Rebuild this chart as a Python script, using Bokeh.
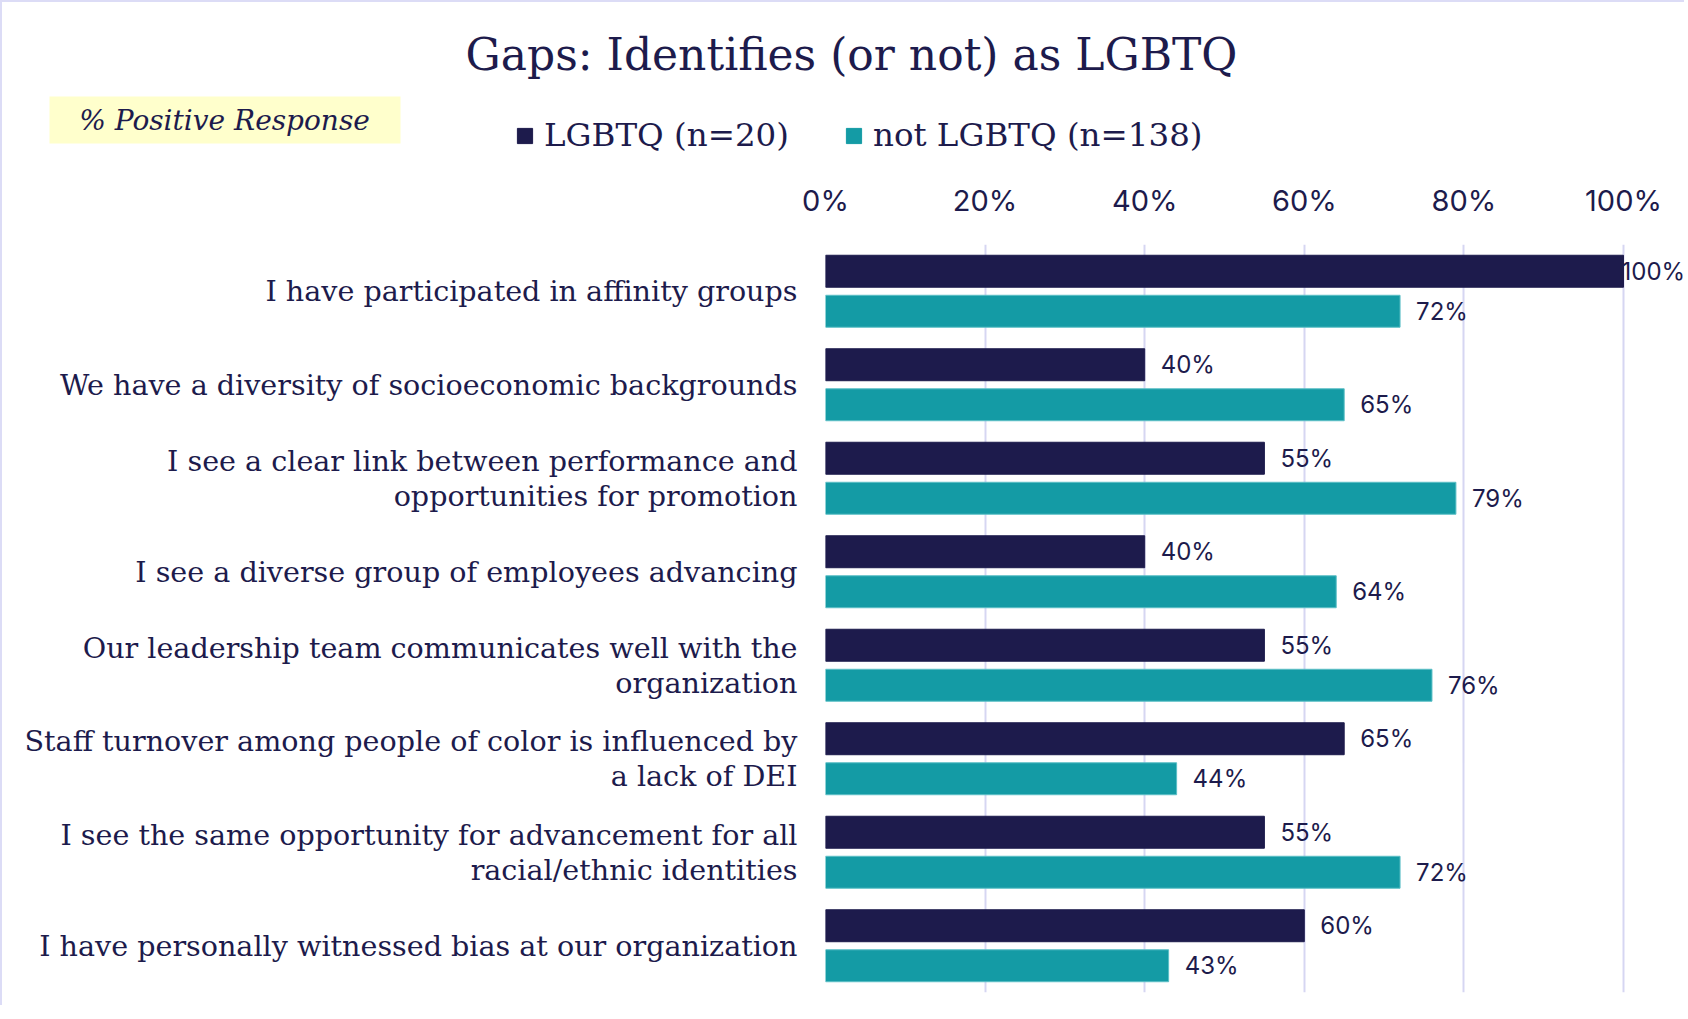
from bokeh.plotting import figure
from bokeh.models import (FactorRange, Range1d, ColumnDataSource, Label, Legend,
                          LegendItem, FixedTicker, CustomJSTickFormatter, BoxAnnotation)
from bokeh.transform import dodge
from bokeh.core.properties import value
from bokeh.embed import file_html
from bokeh.resources import INLINE

# ---------------- data ----------------
categories = [
    "I have participated in affinity groups",
    "We have a diversity of socioeconomic backgrounds",
    "I see a clear link between performance and\nopportunities for promotion",
    "I see a diverse group of employees advancing",
    "Our leadership team communicates well with the\norganization",
    "Staff turnover among people of color is influenced by\na lack of DEI",
    "I see the same opportunity for advancement for all\nracial/ethnic identities",
    "I have personally witnessed bias at our organization",
]
lgbtq = [100, 40, 55, 40, 55, 65, 55, 60]
not_lgbtq = [72, 65, 79, 64, 76, 44, 72, 43]
series_names = ["LGBTQ (n=20)", "not LGBTQ (n=138)"]
x_ticks = [0, 20, 40, 60, 80, 100]
title_text = "Gaps: Identifies (or not) as LGBTQ"
subtitle_text = "% Positive Response"

# ---------------- style ----------------
NAVY = "#1D1B4C"
TEAL = "#149BA5"
GRID = "#D6D6F2"
BORDER = "2px solid #DCDCF6"
SERIF = "DejaVu Serif"
SANS = "Inter"

W = 1684
HEAD_H = 170
MAIN_H = 835
LEFT = 823
PX_PER_100 = 798
x_end = 100 * (W - LEFT) / PX_PER_100

src = ColumnDataSource(dict(
    cat=categories,
    lg=lgbtq,
    nl=not_lgbtq,
    lg_txt=[f"{v}%" for v in lgbtq],
    nl_txt=[f"{v}%" for v in not_lgbtq],
))

# ---------------- header (title, subtitle box, legend) ----------------
head = figure(width=W, height=HEAD_H, x_range=Range1d(0, W), y_range=Range1d(HEAD_H, 0),
              x_axis_type=None, y_axis_type=None, output_backend="svg",
              toolbar_location=None, min_border=0)
head.outline_line_color = None
head.xgrid.grid_line_color = None
head.ygrid.grid_line_color = None
head.styles = {"border-top": BORDER, "border-left": BORDER}

head.add_layout(Label(x=849, y=52, text=title_text, text_align="center",
                      text_baseline="middle", text_font=SERIF, text_font_size="44px",
                      text_color=NAVY))
head.add_layout(BoxAnnotation(left=47, right=398, top=94, bottom=141,
                              fill_color="#FFFFCC", fill_alpha=1, line_color=None))
head.add_layout(Label(x=222, y=118, text=subtitle_text, text_align="center",
                      text_baseline="middle", text_font=SERIF, text_font_style="italic",
                      text_font_size="28px", text_color=NAVY))

# hidden renderers that only lend their style to the legend swatches
lr1 = head.hbar(y="lg", right="lg", height=1, source=src, fill_color=NAVY,
                line_color=NAVY, visible=False)
lr2 = head.hbar(y="nl", right="nl", height=1, source=src, fill_color=TEAL,
                line_color=TEAL, visible=False)
legend = Legend(items=[LegendItem(label=series_names[0], renderers=[lr1]),
                       LegendItem(label=series_names[1], renderers=[lr2])],
                orientation="horizontal", location=(513, 18),
                glyph_width=19, glyph_height=19, label_standoff=10, spacing=55,
                padding=0, margin=0, border_line_color=None,
                background_fill_alpha=0, click_policy="none",
                label_text_font=SERIF, label_text_font_size="32.5px",
                label_text_color=NAVY)
head.add_layout(legend, "center")

# ---------------- main chart ----------------
p = figure(
    width=W, height=MAIN_H,
    y_range=FactorRange(factors=categories[::-1], range_padding=0),
    x_range=Range1d(0, x_end),
    x_axis_location="above",
    output_backend="svg", toolbar_location=None,
    min_border_left=LEFT, min_border_right=0,
    min_border_top=74, min_border_bottom=13,
)
p.outline_line_color = None
p.styles = {"border-left": BORDER}

OFF = 0.214
H = 0.342


def label_offsets(vals):
    return [-2 if v >= 100 else 16 for v in vals]


src.data["lg_off"] = label_offsets(lgbtq)
src.data["nl_off"] = label_offsets(not_lgbtq)

p.hbar(y=dodge("cat", OFF, range=p.y_range), right="lg", left=0, height=H,
       source=src, fill_color=NAVY, line_color=NAVY, line_width=1)
p.hbar(y=dodge("cat", -OFF, range=p.y_range), right="nl", left=0, height=H,
       source=src, fill_color=TEAL, line_color="#5CBFC6", line_width=1)

p.text(x="lg", y=dodge("cat", OFF, range=p.y_range), text="lg_txt", source=src,
       x_offset="lg_off", text_align="left", text_baseline="middle",
       text_font=value(SANS), text_font_size="24px", text_color=NAVY)
p.text(x="nl", y=dodge("cat", -OFF, range=p.y_range), text="nl_txt", source=src,
       x_offset="nl_off", text_align="left", text_baseline="middle",
       text_font=value(SANS), text_font_size="24px", text_color=NAVY)

xa = p.xaxis[0]
xa.ticker = FixedTicker(ticks=x_ticks)
xa.formatter = CustomJSTickFormatter(code="return tick + '%';")
xa.axis_line_color = None
xa.major_tick_line_color = None
xa.minor_tick_line_color = None
xa.major_label_text_font = SANS
xa.major_label_text_font_size = "29px"
xa.major_label_text_color = NAVY
xa.major_label_standoff = 21

ya = p.yaxis[0]
ya.axis_line_color = None
ya.major_tick_line_color = None
ya.minor_tick_line_color = None
ya.major_label_text_font = SERIF
ya.major_label_text_font_size = "28.6px"
ya.major_label_text_color = NAVY
ya.major_label_standoff = 22
ya.major_label_text_line_height = 1.03

p.ygrid.grid_line_color = None
p.xgrid.grid_line_color = GRID
p.xgrid.grid_line_width = 2

open("out.html", "w").write(file_html([head, p], INLINE))
